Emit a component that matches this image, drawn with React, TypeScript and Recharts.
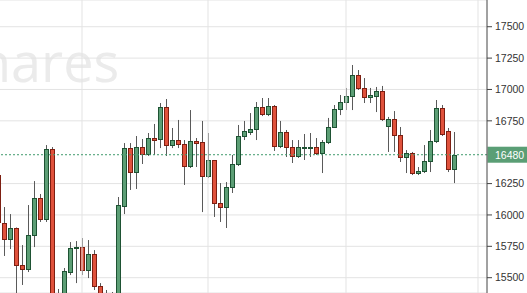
import { ComposedChart, Bar, XAxis, YAxis, CartesianGrid, ReferenceLine } from 'recharts';

const opens = [16318, 15936, 15808, 15896, 15601, 15569, 15840, 16135, 15968, 16525, 15242, 15322, 15545, 15736, 15744, 15561, 15689, 15434, 15378, 15274, 15282, 16071, 16533, 16342, 16541, 16486, 16613, 16605, 16860, 16557, 16597, 16565, 16390, 16589, 16581, 16310, 16438, 16095, 16063, 16223, 16406, 16629, 16661, 16685, 16860, 16804, 16868, 16549, 16661, 16541, 16470, 16533, 16533, 16541, 16494, 16581, 16701, 16844, 16900, 16948, 17115, 17012, 16940, 16948, 16988, 16709, 16765, 16637, 16462, 16494, 16334, 16350, 16430, 16589, 16852, 16669, 16366];
const highs = [16358, 16063, 16007, 15900, 15760, 16079, 16270, 16167, 16557, 16541, 15410, 15577, 15784, 15792, 15816, 15800, 15720, 15457, 15402, 15386, 16143, 16573, 16573, 16629, 16605, 16653, 16725, 16892, 16924, 16693, 16757, 16597, 16836, 16613, 16749, 16653, 16438, 16254, 16262, 16478, 16717, 16749, 16812, 16900, 16932, 16932, 16876, 16749, 16677, 16597, 16597, 16645, 16653, 16613, 16597, 16773, 16876, 16956, 17012, 17195, 17155, 17091, 17012, 17020, 17028, 16781, 16828, 16701, 16517, 16502, 16382, 16557, 16677, 16916, 16876, 16693, 16661];
const lows = [15880, 15673, 15728, 15322, 15442, 15545, 15744, 15944, 15944, 15163, 15163, 15282, 15521, 15457, 15521, 15497, 15402, 15322, 15242, 15242, 15242, 16007, 16199, 16207, 16406, 16470, 16478, 16533, 16470, 16533, 16533, 16239, 16374, 16382, 16023, 16294, 15984, 15944, 15896, 16175, 16390, 16597, 16637, 16597, 16788, 16788, 16510, 16533, 16462, 16414, 16454, 16438, 16462, 16478, 16334, 16565, 16693, 16796, 16836, 16836, 16996, 16892, 16892, 16820, 16749, 16502, 16502, 16422, 16334, 16318, 16318, 16334, 16342, 16573, 16629, 16342, 16254];
const closes = [15944, 15808, 15896, 15601, 15569, 15840, 16135, 15968, 16525, 15242, 15354, 15553, 15736, 15744, 15561, 15689, 15434, 15354, 15282, 15322, 16079, 16533, 16342, 16541, 16486, 16613, 16597, 16860, 16557, 16597, 16565, 16390, 16589, 16573, 16310, 16438, 16095, 16063, 16223, 16406, 16629, 16669, 16685, 16860, 16804, 16868, 16549, 16661, 16541, 16470, 16541, 16541, 16541, 16494, 16581, 16701, 16844, 16900, 16948, 17115, 17012, 16940, 16956, 16988, 16765, 16765, 16637, 16462, 16494, 16334, 16350, 16430, 16589, 16852, 16645, 16366, 16480];

const priceTicks = [15500, 15750, 16000, 16250, 16750, 17000, 17250, 17500];
const lastPrice = 16480;
const sessionBreaks = ['15', '36', '59', '81'];
const emptySlots = 5;
const watermark = 'hares';

const data = [
  ...opens.map((o, i) => ({
    name: String(i + 1),
    o,
    h: highs[i],
    l: lows[i],
    c: closes[i],
    range: [lows[i], highs[i]],
  })),
  ...Array.from({ length: emptySlots }, (_, k) => ({ name: String(opens.length + k + 1), range: null })),
];

function Candle(props: any) {
  const { x, y, width, height, payload } = props;
  if (!payload || payload.o == null) return null;
  const { o, h, l, c } = payload;
  const top = Math.min(y, y + height);
  const bottom = Math.max(y, y + height);
  const k = (bottom - top) / (h - l);
  const cx = x + width / 2 + 0.5;
  const bTop = Math.round(top + (h - Math.max(o, c)) * k) + 0.5;
  const bBot = Math.round(top + (h - Math.min(o, c)) * k) + 0.5;
  const up = c >= o;
  return (
    <g>
      <line x1={cx} x2={cx} y1={top} y2={bottom} stroke="#5a5a5a" strokeWidth={1} />
      <rect
        x={cx - 2}
        y={bTop}
        width={4}
        height={Math.max(bBot - bTop, 1)}
        fill={up ? '#5c9e75' : '#e0523c'}
        stroke={up ? '#1e5233' : '#7d1f12'}
        strokeWidth={1}
      />
    </g>
  );
}

function PriceTag(props: any) {
  const { viewBox } = props;
  if (!viewBox) return null;
  const ax = viewBox.x + viewBox.width;
  const y = viewBox.y;
  return (
    <g>
      <rect x={ax + 0.5} y={y - 8} width={40} height={16} fill="#5a9e75" />
      <text x={ax + 8} y={y + 4} fill="#ffffff" fontSize={10.5} fontFamily="'Liberation Sans', Arial, sans-serif">
        {lastPrice}
      </text>
    </g>
  );
}

export default function App() {
  return (
    <div style={{ position: 'absolute', left: 0, top: 0, width: 527, height: 293, overflow: 'hidden', background: '#fff' }}>
      <svg width={527} height={293} style={{ position: 'absolute', left: 0, top: 0 }}>
        <text x={-22} y={82} fontSize={54} fill="#ebebeb" fontFamily="'Open Sans', sans-serif">
          {watermark}
        </text>
      </svg>
      <div style={{ position: 'absolute', left: -5, top: 0 }}>
        <ComposedChart width={532} height={293} data={data} margin={{ top: 0, right: 0, bottom: 0, left: 0 }} barCategoryGap={0}>
          <CartesianGrid vertical={false} stroke="#e3e3e3" />
          <XAxis dataKey="name" hide />
          <YAxis
            orientation="right"
            width={40}
            domain={[15378, 17713]}
            allowDataOverflow
            ticks={priceTicks}
            interval={0}
            axisLine={{ stroke: '#444' }}
            tickLine={{ stroke: '#444' }}
            tickSize={5}
            tickMargin={3}
            tick={{ fill: '#333', fontSize: 10.5, fontFamily: "'Liberation Sans', Arial, sans-serif" }}
          />
          {sessionBreaks.map((s) => (
            <ReferenceLine key={s} x={s} stroke="#e3e3e3" />
          ))}
          <Bar dataKey="range" isAnimationActive={false} shape={(p: any) => <Candle {...p} />} />
          <ReferenceLine y={lastPrice} stroke="#3f9a6c" strokeDasharray="2 2" label={<PriceTag />} />
        </ComposedChart>
      </div>
    </div>
  );
}
